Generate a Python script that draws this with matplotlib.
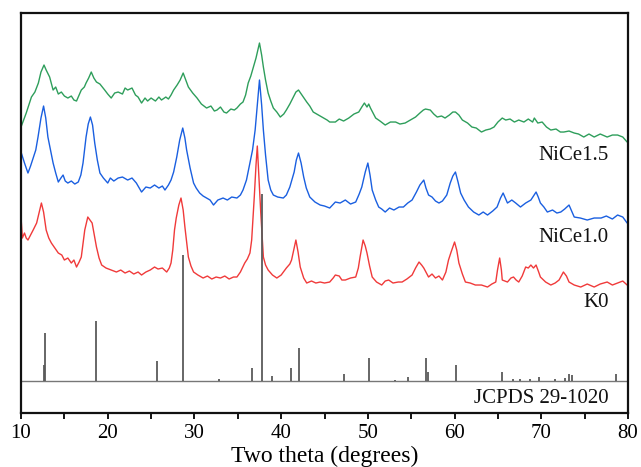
"""
XRD patterns: K0, NiCe1.0, NiCe1.5 with JCPDS 29-1020 reference sticks
"""

import matplotlib
matplotlib.use('Agg')
import matplotlib.pyplot as plt
from matplotlib.ticker import MultipleLocator

# ---- data (intensity in a.u. with offsets) ----
nice15_tt = [10.0, 10.6, 11.2, 11.6, 12.0, 12.3, 12.65, 12.9, 13.3, 13.7, 14.0, 14.3, 14.65, 15.0,
             15.4, 15.8, 16.1, 16.4, 16.95, 17.3, 17.5, 17.8, 18.1, 18.4, 18.7, 19.1, 19.65, 20.0,
             20.4, 20.8, 21.2, 21.7, 22.0, 22.3, 22.8, 23.2, 23.5, 23.9, 24.3, 24.6, 25.0, 25.5,
             25.9, 26.2, 26.7, 27.0, 27.3, 27.6, 28.0, 28.35, 28.7, 29.0, 29.3, 29.8, 30.3, 30.8,
             31.4, 31.9, 32.3, 32.6, 33.0, 33.4, 33.7, 34.2, 34.6, 34.9, 35.3, 35.6, 35.9, 36.2,
             36.5, 36.8, 37.1, 37.5, 37.75, 37.95, 38.2, 38.5, 38.8, 39.1, 39.5, 39.9, 40.3, 40.6,
             41.0, 41.4, 41.7, 42.0, 42.4, 42.95, 43.3, 43.7, 44.3, 44.9, 45.3, 45.6, 46.25, 46.7,
             47.2, 47.8, 48.4, 48.95, 49.3, 49.6, 49.9, 50.1, 50.3, 50.6, 50.9, 51.4, 52.0, 52.6,
             53.2, 53.7, 54.3, 54.9, 55.5, 56.0, 56.4, 56.65, 57.2, 57.6, 58.0, 58.5, 58.9, 59.4,
             59.8, 60.1, 60.5, 60.9, 61.5, 62.0, 62.5, 63.1, 63.6, 64.1, 64.55, 65.0, 65.5, 65.9,
             66.4, 66.9, 67.4, 68.0, 68.5, 69.0, 69.2, 69.6, 70.1, 70.6, 71.1, 71.7, 72.2, 72.6,
             73.2, 73.8, 74.3, 74.9, 75.5, 76.1, 76.8, 77.6, 78.2, 78.8, 79.4, 79.9, 80.0]
nice15_int = [286, 300, 316, 321, 330, 341, 348, 343, 336, 323, 326, 319, 321, 317,
              315, 317, 313, 312, 323, 326, 330, 335, 341, 335, 331, 329, 323, 319,
              315, 320, 321, 319, 325, 323, 325, 318, 316, 310, 315, 312, 315, 312,
              316, 313, 316, 314, 318, 323, 328, 333, 340, 333, 326, 320, 315, 309,
              305, 307, 302, 303, 306, 301, 300, 304, 303, 305, 309, 311, 318, 330,
              337, 346, 355, 370, 358, 346, 333, 320, 312, 305, 301, 296, 299, 303,
              309, 316, 321, 323, 318, 311, 307, 301, 298, 295, 293, 291, 291, 294,
              292, 295, 299, 301, 306, 310, 306, 309, 305, 300, 295, 292, 288, 291,
              291, 289, 290, 293, 296, 300, 303, 304, 303, 299, 296, 297, 295, 298,
              301, 301, 298, 293, 290, 286, 285, 281, 283, 284, 286, 291, 295, 293,
              294, 291, 293, 291, 294, 291, 295, 290, 291, 286, 283, 284, 281, 281,
              282, 280, 279, 276, 279, 276, 279, 276, 278, 278, 276, 271, 271]

nice10_tt = [10.0, 10.4, 10.8, 11.1, 11.4, 11.7, 11.96, 12.3, 12.6, 12.85, 13.1, 13.4, 13.7, 14.0,
             14.3, 14.6, 14.85, 15.1, 15.4, 15.8, 16.2, 16.6, 16.9, 17.15, 17.5, 17.75, 18.0, 18.25,
             18.5, 18.8, 19.1, 19.5, 20.0, 20.3, 20.7, 21.2, 21.7, 22.3, 22.8, 23.3, 23.9, 24.4,
             24.9, 25.4, 25.9, 26.3, 26.6, 27.0, 27.3, 27.6, 27.96, 28.3, 28.65, 28.9, 29.1, 29.5,
             29.9, 30.2, 30.6, 31.0, 31.4, 31.8, 32.2, 32.7, 33.3, 33.8, 34.3, 34.9, 35.3, 35.6,
             36.0, 36.4, 36.7, 37.0, 37.25, 37.5, 37.75, 37.95, 38.2, 38.5, 38.8, 39.1, 39.6, 40.25,
             40.6, 41.0, 41.5, 41.75, 42.0, 42.3, 42.6, 42.9, 43.3, 43.9, 44.5, 45.0, 45.6, 46.25,
             46.8, 47.4, 48.0, 48.6, 49.0, 49.3, 49.7, 50.0, 50.25, 50.5, 50.9, 51.25, 51.6, 52.0,
             52.5, 53.0, 53.6, 54.1, 54.6, 55.1, 55.6, 56.0, 56.45, 56.7, 57.0, 57.4, 57.8, 58.2,
             58.6, 59.1, 59.5, 59.8, 60.1, 60.4, 60.7, 61.1, 61.6, 62.2, 62.8, 63.3, 63.8, 64.4,
             64.9, 65.3, 65.6, 65.85, 66.1, 66.6, 67.05, 67.6, 68.2, 68.8, 69.1, 69.4, 69.65, 69.9,
             70.3, 70.7, 71.3, 71.8, 72.25, 72.7, 73.2, 73.5, 73.8, 74.5, 75.3, 76.1, 76.9, 77.5,
             78.2, 78.8, 79.4, 79.9, 80.0]
nice10_int = [261, 250, 240, 247, 255, 263, 276, 295, 307, 295, 276, 263, 250, 240,
              231, 235, 238, 232, 230, 232, 229, 231, 238, 250, 276, 289, 296, 288,
              270, 253, 240, 235, 230, 235, 232, 235, 236, 233, 235, 230, 221, 226,
              225, 228, 225, 227, 223, 228, 233, 241, 256, 273, 285, 275, 263, 245,
              230, 225, 220, 217, 215, 213, 208, 213, 215, 213, 216, 215, 218, 223,
              233, 250, 263, 283, 308, 333, 308, 283, 258, 233, 223, 218, 216, 215,
              218, 226, 241, 253, 260, 250, 236, 225, 216, 211, 208, 207, 205, 211,
              210, 213, 209, 211, 219, 226, 241, 250, 238, 223, 213, 206, 204, 201,
              205, 203, 206, 206, 210, 213, 221, 228, 233, 225, 218, 216, 212, 210,
              212, 218, 230, 237, 241, 231, 220, 213, 206, 201, 198, 201, 198, 202,
              206, 215, 220, 215, 210, 213, 210, 206, 210, 213, 217, 221, 216, 210,
              206, 201, 203, 200, 201, 204, 208, 202, 196, 195, 193, 195, 195, 197,
              194, 198, 196, 190, 190]

k0_tt = [10.0, 10.15, 10.4, 10.6, 10.8, 11.1, 11.4, 11.8, 12.1, 12.35, 12.6, 12.9, 13.2, 13.5,
         13.9, 14.3, 14.7, 15.0, 15.4, 15.8, 16.1, 16.4, 16.7, 16.95, 17.2, 17.35, 17.7, 17.95,
         18.2, 18.45, 18.7, 19.0, 19.3, 19.8, 20.4, 21.0, 21.5, 22.0, 22.5, 23.0, 23.5, 23.9,
         24.4, 24.9, 25.4, 25.8, 26.3, 26.8, 27.1, 27.3, 27.5, 27.7, 27.9, 28.2, 28.45, 28.7,
         28.9, 29.1, 29.3, 29.6, 29.9, 30.4, 31.0, 31.5, 32.0, 32.5, 33.0, 33.5, 34.0, 34.5,
         34.9, 35.3, 35.8, 36.1, 36.4, 36.6, 36.9, 37.1, 37.25, 37.45, 37.65, 37.95, 38.2, 38.5,
         39.0, 39.5, 40.0, 40.6, 41.0, 41.2, 41.45, 41.7, 41.95, 42.2, 42.6, 42.95, 43.5, 44.0,
         44.5, 45.0, 45.6, 46.0, 46.25, 46.7, 47.0, 47.4, 48.0, 48.6, 48.9, 49.1, 49.45, 49.7,
         49.9, 50.2, 50.5, 51.0, 51.6, 52.0, 52.4, 52.9, 53.5, 53.95, 54.5, 55.1, 55.5, 55.9,
         56.2, 56.45, 57.0, 57.4, 57.8, 58.2, 58.6, 59.0, 59.3, 59.6, 60.0, 60.25, 60.5, 60.9,
         61.25, 61.8, 62.4, 63.1, 63.8, 64.3, 64.75, 64.95, 65.2, 65.4, 65.5, 66.1, 66.5, 66.8,
         67.1, 67.4, 67.8, 68.2, 68.5, 68.8, 69.1, 69.4, 69.7, 69.9, 70.5, 71.1, 71.6, 72.05,
         72.55, 72.9, 73.2, 73.8, 74.55, 75.3, 76.1, 76.8, 77.6, 78.2, 78.8, 79.4, 79.9, 80.0]
k0_int = [196, 175, 180, 175, 173, 178, 183, 190, 201, 210, 201, 183, 175, 170,
          165, 160, 158, 153, 155, 150, 153, 146, 151, 156, 173, 183, 196, 193,
          190, 178, 166, 155, 148, 145, 143, 141, 143, 140, 142, 139, 141, 138,
          141, 143, 146, 144, 145, 141, 145, 150, 163, 183, 195, 208, 215, 203,
          186, 171, 156, 147, 141, 138, 135, 137, 134, 136, 135, 137, 134, 136,
          136, 141, 150, 154, 160, 173, 216, 248, 267, 233, 200, 156, 148, 143,
          138, 135, 138, 145, 149, 153, 163, 173, 161, 146, 135, 130, 132, 130,
          131, 130, 131, 135, 138, 137, 133, 133, 135, 136, 145, 156, 173, 167,
          160, 147, 136, 131, 128, 132, 133, 130, 131, 131, 134, 138, 145, 151,
          148, 145, 136, 139, 135, 137, 133, 141, 153, 161, 171, 163, 150, 139,
          131, 130, 128, 128, 126, 129, 131, 143, 155, 143, 133, 131, 135, 136,
          133, 131, 137, 146, 145, 148, 145, 148, 141, 136, 131, 128, 130, 133,
          141, 137, 131, 128, 126, 129, 126, 129, 131, 128, 130, 132, 128, 128]

# JCPDS 29-1020 reference lines (position, height above baseline)
ref_baseline = 32
ref_tt = [12.6, 12.75, 18.6, 25.7, 28.7, 32.8, 36.6, 37.75, 39.0, 41.1, 42.05, 47.3, 50.15,
          53.1, 54.6, 56.65, 56.9, 60.2, 65.5, 66.7, 67.6, 68.7, 69.7, 71.6, 72.7, 73.15,
          73.5, 78.6]
ref_height = [16, 48, 60, 20, 126, 2, 13, 187, 5, 13, 33, 7, 23,
              1.5, 4, 23, 9, 16, 9, 2, 2, 2, 4, 2, 3, 7,
              6, 7]

labels = ['NiCe1.5', 'NiCe1.0', 'K0', 'JCPDS 29-1020']
label_y = [258, 176, 111, 15]


def plot_xrd():
    fig = plt.figure(figsize=(6.41, 4.67), dpi=100)
    ax = fig.add_axes([0.0328, 0.1156, 0.9469, 0.8565])

    # patterns
    ax.plot(nice15_tt, nice15_int, color='#2e9e5b', linewidth=1.0)
    ax.plot(nice10_tt, nice10_int, color='#1a5fe0', linewidth=1.0)
    ax.plot(k0_tt, k0_int, color='#f03a3a', linewidth=1.0)

    # reference card
    ax.axhline(ref_baseline, color='#777777', linewidth=1.0)
    ax.vlines(ref_tt, ref_baseline, [ref_baseline + h for h in ref_height],
              color='#5a5a5a', linewidth=1.3)

    # sample labels
    for txt, y in zip(labels, label_y):
        ax.text(77.8, y, txt, ha='right', va='center', fontsize=15,
                family='Liberation Serif', color='#111111')

    ax.set_xlim(10, 80)
    ax.set_ylim(0, 400)
    ax.set_yticks([])

    ax.xaxis.set_major_locator(MultipleLocator(10))
    ax.xaxis.set_minor_locator(MultipleLocator(5))
    ax.tick_params(axis='x', which='both', direction='out', length=4, width=1.3,
                   labelsize=15, pad=4)
    for lab in ax.get_xticklabels():
        lab.set_family('Liberation Serif')

    ax.set_xlabel('Two theta (degrees)', fontsize=17, family='Liberation Serif', labelpad=2)

    for spine in ax.spines.values():
        spine.set_linewidth(1.6)
        spine.set_edgecolor('#111111')

    fig.savefig('out.png', dpi=100)


if __name__ == "__main__":
    plot_xrd()
